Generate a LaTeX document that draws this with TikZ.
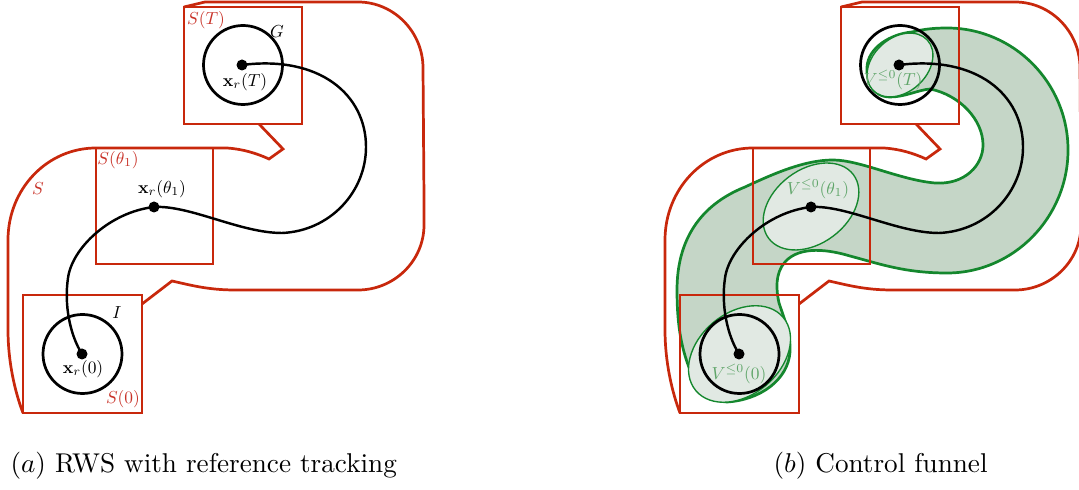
\documentclass[tikz,border=0pt]{standalone}
\usepackage{amsmath,amssymb}
\definecolor{sred}{RGB}{200,40,12}
\definecolor{lred}{RGB}{200,50,40}
\definecolor{fgreen}{RGB}{20,135,45}
\definecolor{lgreen}{RGB}{95,165,105}
\definecolor{funfill}{RGB}{197,214,199}
\definecolor{ellfill}{RGB}{225,233,227}
\tikzset{
  redline/.style={draw=sred,line width=1pt},
  setbox/.style={draw=sred,line width=1pt},
  blackcirc/.style={draw=black,line width=1pt},
  traj/.style={draw=black,line width=0.9pt},
  lab/.style={scale=0.64,inner sep=0pt},
  redlab/.style={lab,text=lred},
  greenlab/.style={lab,text=lgreen},
  funnel/.style={draw=fgreen,fill=funfill,line width=1pt},
  vell/.style={draw=fgreen,fill=ellfill,line width=0.5pt},
  captext/.style={anchor=base west,inner sep=0pt},
}
\newcommand{\rwsframe}{%
  \draw[redline] (184,7) -- (205,2) -- (358,2) .. controls (394,2) and (423,32) .. (423,68)
    -- (424,200) -- (424,225) .. controls (424,261) and (394,290) .. (358,290)
    -- (235,290) .. controls (208,290) and (190,285) .. (172,281) -- (142,304);
  \draw[redline] (23,413) .. controls (15,392) and (8,362) .. (8,330) -- (8,240)
    .. controls (8,189) and (47,148) .. (96,148) -- (227,148)
    .. controls (242,149) and (256,153) .. (269,159) -- (283,149) -- (259,124);
  \draw[setbox] (184,7) rectangle (302,124);
  \draw[setbox] (96,148) rectangle (213,264);
  \draw[setbox] (23,295) rectangle (142,413);
}
\newcommand{\rwstraj}{%
  \draw[blackcirc] (243,65) circle (39.5);
  \draw[blackcirc] (82.5,354) circle (39.5);
  \coordinate (x0) at (82,354);
  \coordinate (x1) at (154,207);
  \coordinate (xT) at (242,65);
  \draw[traj] (x0) .. controls (70,335) and (64,305) .. (68,278)
    .. controls (72,248) and (110,212) .. (x1)
    .. controls (190,205) and (240,233) .. (282,233)
    .. controls (330,231) and (366,192) .. (366,147)
    .. controls (366,95) and (320,55) .. (xT);
  \fill (x0) circle (5.5);
  \fill (x1) circle (5.5);
  \fill (xT) circle (5.5);
}
\begin{document}
\begin{tikzpicture}[x=0.368pt,y=-0.368pt]
\useasboundingbox (0,0) rectangle (1079,490);
% ---------------- panel (a)
\rwsframe
\rwstraj
\node[redlab] (lST) at (206,20) {$S(T)$};
\node[lab] (lG) at (277,32) {$G$};
\node[lab] (lxT) at (245,82) {$\mathbf{x}_r(T)$};
\node[redlab] (lS1) at (118,160) {$S(\theta_1)$};
\node[redlab] (lS) at (38,189) {$S$};
\node[lab] (lx1) at (162,189) {$\mathbf{x}_r(\theta_1)$};
\node[lab] (lI) at (117,313) {$I$};
\node[lab] (lx0) at (83,369) {$\mathbf{x}_r(0)$};
\node[redlab] (lS0) at (123,399) {$S(0)$};
% ---------------- panel (b)
\draw[funnel] (947,28) .. controls (1014,28) and (1068,83) .. (1068,150)
  .. controls (1068,217) and (1014,273) .. (947,273)
  .. controls (905,273) and (880,264) .. (850,256)
  .. controls (830,250) and (800,245) .. (785,262)
  .. controls (775,273) and (776,290) .. (779,303)
  .. controls (784,318) and (791,335) .. (790,352)
  .. controls (788,380) and (760,400) .. (727,402)
  .. controls (712,402) and (698,390) .. (690,370)
  .. controls (680,345) and (677,320) .. (677,290)
  .. controls (677,240) and (700,205) .. (745,187)
  .. controls (775,173) and (805,160) .. (833,160)
  .. controls (860,160) and (900,180) .. (935,183)
  .. controls (965,185) and (983,165) .. (983,145)
  .. controls (983,120) and (960,95) .. (930,89)
  .. controls (918,90) and (905,97) .. (890,97)
  .. controls (872,97) and (866,80) .. (867,67)
  .. controls (868,48) and (890,34) .. (912,32)
  .. controls (924,29) and (935,28) .. (947,28) -- cycle;
\draw[vell,rotate around={42:(900,65)}] (900,65) ellipse [x radius=37, y radius=27];
\draw[vell,rotate around={37:(811,206.5)}] (811,206.5) ellipse [x radius=53, y radius=37];
\draw[vell,rotate around={40:(739.5,354)}] (739.5,354) ellipse [x radius=57, y radius=41];
\begin{scope}[shift={(657,0)},name prefix=b-]
\rwsframe
\rwstraj
\end{scope}
\node[greenlab] (vT) at (893,80) {$V^{\leq 0}(T)$};
\node[greenlab] (v1) at (818,189) {$V^{\leq 0}(\theta_1)$};
\node[greenlab] (v0) at (739,374) {$V^{\leq 0}(0)$};
% ---------------- captions
\node[captext] (capa) at (10,472) {$(a)$ RWS with reference tracking};
\node[captext] (capb) at (773,472) {$(b)$ Control funnel};
\end{tikzpicture}
\end{document}
